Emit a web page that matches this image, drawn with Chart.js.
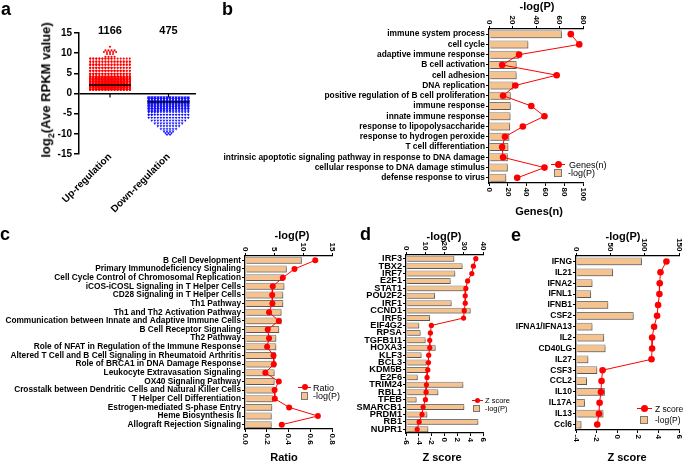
<!DOCTYPE html>
<html>
<head>
<meta charset="utf-8">
<script src="https://cdn.jsdelivr.net/npm/chart.js@4.4.1/dist/chart.umd.min.js"></script>
<style>
  html, body { margin: 0; padding: 0; background: #fff; }
  #fig { position: relative; width: 685px; height: 463px; overflow: hidden;
         font-family: 'Liberation Sans', Arial, sans-serif; color: #000; }
  canvas { position: absolute; }
  .letter { position: absolute; font-weight: bold; font-size: 18px; line-height: 18px; }
  .ttl { position: absolute; white-space: nowrap; font-weight: bold; font-size: 11px;
         transform: translate(-50%, -50%); }
  .key { position: absolute; white-space: nowrap; font-size: 9px; line-height: 1;
         transform: translateY(-50%); }
  .kline { position: absolute; height: 1px; background: #f00; }
  .kdot { position: absolute; border-radius: 50%; background: #f00; }
  .kbox { position: absolute; background: #F6C38E; border: 1px solid #777; box-sizing: border-box; }
</style>
</head>
<body>
<div id="fig">
  <canvas id="chartA" width="215" height="225" style="left:0;top:0"></canvas>
  <canvas id="chartB" width="470" height="222" style="left:215px;top:0"></canvas>
  <canvas id="chartC" width="345" height="241" style="left:0;top:222px"></canvas>
  <canvas id="chartD" width="150" height="241" style="left:345px;top:222px"></canvas>
  <canvas id="chartE" width="190" height="241" style="left:495px;top:222px"></canvas>

  <div class="letter" style="left:1px;top:0">a</div>
  <div class="letter" style="left:222px;top:0">b</div>
  <div class="letter" style="left:0;top:225px">c</div>
  <div class="letter" style="left:360px;top:225px">d</div>
  <div class="letter" style="left:511px;top:226px">e</div>

  <div class="ttl" style="left:47px;top:90px;font-size:13px;transform:translate(-50%,-50%) rotate(-90deg)">log<sub style="font-size:9px">2</sub>(Ave RPKM value)</div>

  <div class="ttl" style="left:537px;top:6px">-log(P)</div>
  <div class="ttl" style="left:539px;top:211px">Genes(n)</div>
  <div class="ttl" style="left:292px;top:235px">-log(P)</div>
  <div class="ttl" style="left:284px;top:457px">Ratio</div>
  <div class="ttl" style="left:444px;top:236px">-log(P)</div>
  <div class="ttl" style="left:442px;top:457px">Z score</div>
  <div class="ttl" style="left:623px;top:236px">-log(P)</div>
  <div class="ttl" style="left:627px;top:457px">Z score</div>

  <!-- legends -->
  <div class="kline" style="left:551px;top:164px;width:14px"></div>
  <div class="kdot" style="left:554.5px;top:160.5px;width:7px;height:7px"></div>
  <div class="key" style="left:569px;top:164.5px">Genes(n)</div>
  <div class="kbox" style="left:554px;top:169px;width:8px;height:8px"></div>
  <div class="key" style="left:568px;top:173px">-log(P)</div>

  <div class="kline" style="left:298px;top:387px;width:13px"></div>
  <div class="kdot" style="left:301.5px;top:384px;width:6px;height:6px"></div>
  <div class="key" style="left:313px;top:387.5px">Ratio</div>
  <div class="kbox" style="left:301px;top:392px;width:7px;height:8px"></div>
  <div class="key" style="left:313px;top:396px">-log(P)</div>

  <div class="kline" style="left:472px;top:400px;width:11px"></div>
  <div class="kdot" style="left:475px;top:397.5px;width:5px;height:5px"></div>
  <div class="key" style="left:485px;top:400.5px;font-size:7.5px">Z score</div>
  <div class="kbox" style="left:473px;top:405px;width:7px;height:7px"></div>
  <div class="key" style="left:485px;top:408.5px;font-size:7.5px">-log(P)</div>

  <div class="kline" style="left:637px;top:408px;width:15px"></div>
  <div class="kdot" style="left:641px;top:404.5px;width:7px;height:7px"></div>
  <div class="key" style="left:655px;top:408.5px;font-size:8.5px">Z score</div>
  <div class="kbox" style="left:640px;top:416px;width:8px;height:8px"></div>
  <div class="key" style="left:655px;top:420px;font-size:8.5px">-log(P)</div>
</div>

<script>
// ---- a: log2 RPKM of DE genes, dot rows (level, number of genes in that row)
const groupNames = ['Up-regulation', 'Down-regulation'];
const upLevels = [1.0, 1.4, 1.8, 2.2, 2.6, 3.0, 3.4, 3.8, 4.2, 4.9, 5.65, 6.4, 7.15, 7.9, 8.65, 9.1, 9.8, 10.3, 10.7, 11.6];
const upCounts = [120, 120, 115, 115, 110, 105, 100, 90, 71, 45, 40, 36, 32, 28, 22, 4, 3, 5, 4, 1];
const downLevels = [-1.0, -1.4, -1.8, -2.2, -2.6, -3.0, -3.4, -3.8, -4.2, -4.6, -5.3, -6.0, -6.7, -7.4, -8.1, -8.8, -9.4, -9.8, -10.2];
const downCounts = [50, 50, 50, 48, 46, 44, 38, 34, 22, 18, 16, 14, 12, 10, 8, 6, 4, 3, 2];
const medians = [2.1, -2.1];

// ---- b: GO terms
const goTerms = ['immune system process', 'cell cycle', 'adaptive immune response', 'B cell activation',
  'cell adhesion', 'DNA replication', 'positive regulation of B cell proliferation', 'immune response',
  'innate immune response', 'response to lipopolysaccharide', 'response to hydrogen peroxide',
  'T cell differentiation', 'intrinsic apoptotic signaling pathway in response to DNA damage',
  'cellular response to DNA damage stimulus', 'defense response to virus'];
const goLogP = [62, 33.5, 25.5, 23.5, 23.5, 20.7, 18.5, 18.5, 18.3, 18, 17.3, 16.5, 16, 16, 14.7];
const goGenes = [87, 96, 32, 14, 72, 28, 15, 45, 59, 36, 17, 14, 15, 59, 30];

// ---- c: IPA canonical pathways
const ipaPathways = ['B Cell Development', 'Primary Immunodeficiency Signaling',
  'Cell Cycle Control of Chromosomal Replication', 'iCOS-iCOSL Signaling in T Helper Cells',
  'CD28 Signaling in T Helper Cells', 'Th1 Pathway', 'Th1 and Th2 Activation Pathway',
  'Communication between Innate and Adaptive Immune Cells', 'B Cell Receptor Signaling', 'Th2 Pathway',
  'Role of NFAT in Regulation of the Immune Response', 'Altered T Cell and B Cell Signaling in Rheumatoid Arthritis',
  'Role of BRCA1 in DNA Damage Response', 'Leukocyte Extravasation Signaling', 'OX40 Signaling Pathway',
  'Crosstalk between Dendritic Cells and Natural Killer Cells', 'T Helper Cell Differentiation',
  'Estrogen-mediated S-phase Entry', 'Heme Biosynthesis II', 'Allograft Rejection Signaling'];
const ipaLogP = [9.8, 7.2, 6.75, 6.8, 6.6, 6.6, 6.3, 6.3, 5.9, 5.4, 5.4, 5.3, 5.3, 5.1, 5.1, 5.0, 4.9, 4.7, 4.6, 4.6];
const ipaRatio = [0.646, 0.455, 0.348, 0.255, 0.25, 0.252, 0.221, 0.311, 0.209, 0.221, 0.203, 0.262,
  0.265, 0.187, 0.311, 0.272, 0.274, 0.406, 0.67, 0.338];

// ---- d: upstream transcription regulators
const tfNames = ['IRF3', 'TBX2', 'IRF7', 'E2F1', 'STAT1', 'POU2F2', 'IRF1', 'CCND1', 'IRF5', 'EIF4G2', 'RPSA',
  'TGFB1I1', 'HOXA3', 'KLF3', 'BCL3', 'KDM5B', 'E2F6', 'TRIM24', 'RBL1', 'TFEB', 'SMARCB1', 'PRDM1', 'RB1', 'NUPR1'];
const tfLogP = [25.1, 29.4, 25.6, 23.2, 30.6, 15.1, 23.7, 33.6, 12.5, 6.9, 7.6, 10.2, 15.4, 8.1, 10.7, 11.4,
  6.1, 29.8, 16.8, 5.5, 30.3, 11.1, 37.6, 11.6];
const tfZ = [4.88, 4.5, 4.26, 3.6, 3.33, 3.23, 3.23, 3.08, 2.97, -2.05, -2.2, -2.3, -2.3, -2.46, -2.5, -2.6,
  -2.72, -2.82, -2.87, -2.97, -3.33, -3.5, -3.95, -4.26];

// ---- e: upstream cytokines
const cytoNames = ['IFNG', 'IL21', 'IFNA2', 'IFNL1', 'IFNB1', 'CSF2', 'IFNA1/IFNA13', 'IL2', 'CD40LG', 'IL27',
  'CSF3', 'CCL2', 'IL10', 'IL17A', 'IL13', 'Ccl6'];
const cytoLogP = [96, 54, 24, 22, 47, 84, 24, 41, 43, 18, 31, 16, 42, 13, 40, 8];
const cytoZ = [4.78, 4.2, 4.13, 4.1, 3.97, 3.87, 3.58, 3.39, 3.39, 3.33, -1.42, -1.52, -1.58, -1.71, -1.77, -1.94];

const RED = '#FF0000';
const PEACH = '#F6C38E';
const FONT = "'Liberation Sans', Arial, sans-serif";
Chart.defaults.font.family = FONT;
Chart.defaults.color = '#000';
Chart.defaults.animation = false;
Chart.defaults.plugins.legend.display = false;
Chart.defaults.plugins.tooltip.enabled = false;

// lay each row's genes side by side (max 14 columns, extra ones stack on top)
function dotRows(center, levels, counts) {
  const step = 0.052, cols = 14;
  const pts = [];
  levels.forEach((y, r) => {
    const n = counts[r];
    const used = Math.min(n, cols);
    for (let k = 0; k < n; k++) {
      const c = k % used;
      pts.push({ x: center + (c - (used - 1) / 2) * step, y: y });
    }
  });
  return pts;
}

function medianLine(i) {
  return [{ x: i + 1 - 0.36, y: medians[i] }, { x: i + 1 + 0.36, y: medians[i] }];
}

// group sizes above the dots + little ticks on the zero line
const countLabels = {
  id: 'countLabels',
  afterDatasetsDraw(chart) {
    const { ctx, scales: { x, y } } = chart;
    const sums = [upCounts, downCounts].map(c => c.reduce((a, b) => a + b, 0));
    const y0 = y.getPixelForValue(0);
    ctx.save();
    ctx.font = 'bold 11px ' + FONT;
    ctx.fillStyle = '#000';
    ctx.strokeStyle = '#000';
    ctx.lineWidth = 1.2;
    ctx.textAlign = 'center';
    ctx.textBaseline = 'middle';
    sums.forEach((s, i) => {
      const px = x.getPixelForValue(i + 1);
      ctx.fillText(String(s), px, y.top - 2);
      ctx.beginPath();
      ctx.moveTo(px, y0);
      ctx.lineTo(px, y0 + 4);
      ctx.stroke();
    });
    ctx.restore();
  }
};

new Chart(document.getElementById('chartA'), {
  type: 'scatter',
  data: {
    datasets: [
      { data: dotRows(1, upLevels, upCounts), backgroundColor: RED, pointRadius: 1.05, borderWidth: 0, order: 2 },
      { data: dotRows(2, downLevels, downCounts), backgroundColor: '#1414FF', pointStyle: 'triangle',
        rotation: 180, pointRadius: 1.6, borderWidth: 0, order: 2 },
      { type: 'line', data: medianLine(0), borderColor: '#000', borderWidth: 1.5, pointRadius: 0, order: 1 },
      { type: 'line', data: medianLine(1), borderColor: '#000', borderWidth: 1.5, pointRadius: 0, order: 1 }
    ]
  },
  options: {
    responsive: false,
    layout: { padding: { top: 33, right: 19, left: 0, bottom: 0 } },
    scales: {
      x: {
        type: 'linear', min: 0.47, max: 2.47,
        afterBuildTicks: s => { s.ticks = groupNames.map((g, i) => ({ value: i + 1 })); },
        ticks: { callback: (v, i) => groupNames[i], minRotation: 45, maxRotation: 45, padding: -11,
                 font: { size: 10, weight: 'bold' } },
        grid: { display: false },
        border: { display: false },
        afterFit: s => { s.height = 71; }
      },
      y: {
        min: -15, max: 15,
        ticks: { stepSize: 5, padding: 2, font: { size: 10, weight: 'bold' } },
        grid: { color: c => (c.tick && c.tick.value === 0 ? '#000' : 'rgba(0,0,0,0)'),
                lineWidth: 1.5, tickColor: '#000', tickLength: 5 },
        border: { color: '#000', width: 1.5 },
        afterFit: s => { s.width = 79; }
      }
    }
  },
  plugins: [countLabels]
});

// value-axis numbers written sideways, reading top to bottom
const sideTicks = {
  id: 'sideTicks',
  afterDraw(chart) {
    const ctx = chart.ctx;
    ctx.save();
    ctx.font = 'bold 8px ' + FONT;
    ctx.fillStyle = '#000';
    ctx.textBaseline = 'middle';
    ['xt', 'xb'].forEach(id => {
      const s = chart.scales[id];
      const top = s.position === 'top';
      s.ticks.forEach((t, i) => {
        ctx.save();
        ctx.translate(s.getPixelForTick(i), top ? s.bottom - 4.5 : s.top + 4.5);
        ctx.rotate(Math.PI / 2);
        ctx.textAlign = top ? 'right' : 'left';
        ctx.fillText(t.label, 0, 0);
        ctx.restore();
      });
    });
    ctx.restore();
  }
};

// light drop shadow under the bars
const barShadow = {
  id: 'barShadow',
  beforeDatasetDraw(chart, args) {
    if (args.meta.type !== 'bar') return;
    const ctx = chart.ctx;
    ctx.save();
    ctx.shadowColor = 'rgba(0,0,0,0.28)';
    ctx.shadowOffsetX = 1.5;
    ctx.shadowOffsetY = 1.5;
    ctx.shadowBlur = 0;
  },
  afterDatasetDraw(chart, args) {
    if (args.meta.type !== 'bar') return;
    chart.ctx.restore();
  }
};

// horizontal bars (-log(P), top axis) with a red line (bottom axis)
function comboChart(id, c) {
  const axisGrid = { drawOnChartArea: false, drawTicks: true, tickLength: 3, color: '#000', lineWidth: 1 };
  return new Chart(document.getElementById(id), {
    type: 'bar',
    data: {
      labels: c.labels,
      datasets: [
        { type: 'line', data: c.lineValues, xAxisID: 'xb', borderColor: RED, borderWidth: 1,
          pointRadius: c.dot, pointBackgroundColor: RED, pointBorderWidth: 0, order: 0 },
        { type: 'bar', data: c.barValues, xAxisID: 'xt', backgroundColor: PEACH, borderColor: '#7a7a7a',
          borderWidth: 1, barPercentage: c.barPct, categoryPercentage: 1, order: 1 }
      ]
    },
    options: {
      indexAxis: 'y',
      responsive: false,
      layout: { padding: { right: c.padRight, left: 0, top: 0, bottom: 0 } },
      scales: {
        y: {
          type: 'category',
          ticks: { autoSkip: false, padding: 1, font: { size: c.labelSize, weight: 'bold' } },
          grid: { offset: false, drawOnChartArea: false, drawTicks: true, tickLength: 3, color: '#000' },
          border: { color: '#000', width: 1.3 },
          afterFit: s => { s.width = c.yWidth; }
        },
        xt: {
          type: 'linear', position: 'top', min: 0, max: c.topMax,
          ticks: { stepSize: c.topStep, display: false },
          grid: axisGrid,
          border: { color: '#000', width: 1.3 },
          afterFit: s => { s.height = c.topH; }
        },
        xb: {
          type: 'linear', position: 'bottom', min: c.botMin, max: c.botMax,
          ticks: { stepSize: c.botStep, display: false, callback: c.botFormat || (v => String(v)) },
          grid: axisGrid,
          border: { color: '#000', width: 1.3 },
          afterFit: s => { s.height = c.botH; }
        }
      }
    },
    plugins: [sideTicks, barShadow]
  });
}

comboChart('chartB', {
  labels: goTerms, barValues: goLogP, lineValues: goGenes,
  topMax: 80, topStep: 20, botMin: 0, botMax: 100, botStep: 20,
  yWidth: 274, topH: 29, botH: 39, padRight: 102,
  labelSize: 8.4, barPct: 0.78, dot: 3.3
});

comboChart('chartC', {
  labels: ipaPathways, barValues: ipaLogP, lineValues: ipaRatio,
  topMax: 15, topStep: 5, botMin: 0, botMax: 0.8, botStep: 0.2, botFormat: v => v.toFixed(1),
  yWidth: 245, topH: 34, botH: 34, padRight: 13,
  labelSize: 8.3, barPct: 0.8, dot: 3
});

comboChart('chartD', {
  labels: tfNames, barValues: tfLogP, lineValues: tfZ,
  topMax: 40, topStep: 10, botMin: -6, botMax: 6, botStep: 2,
  yWidth: 61, topH: 33, botH: 30, padRight: 12,
  labelSize: 9.2, barPct: 0.8, dot: 2.6
});

comboChart('chartE', {
  labels: cytoNames, barValues: cytoLogP, lineValues: cytoZ,
  topMax: 150, topStep: 50, botMin: -4, botMax: 6, botStep: 2,
  yWidth: 81, topH: 34, botH: 33, padRight: 6,
  labelSize: 8.5, barPct: 0.72, dot: 3.3
});
</script>
</body>
</html>
